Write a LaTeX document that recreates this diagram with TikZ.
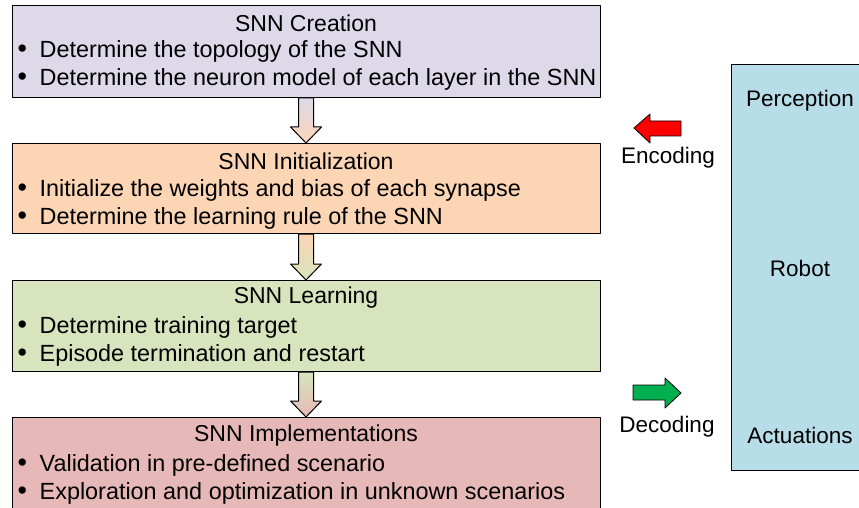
\documentclass[tikz,border=0pt]{standalone}
\usepackage{fontspec}
\setmainfont{Liberation Sans}
\usetikzlibrary{calc}

\newcommand{\itembullet}{\makebox[28pt][l]{\hspace{6pt}\scalebox{1.15}{\textbullet}}}

\begin{document}
\begin{tikzpicture}[x=1pt,y=-1pt,line cap=round,line join=round]

% Colors
\definecolor{createfill}{RGB}{221,217,233}
\definecolor{initfill}{RGB}{252,213,181}
\definecolor{learnfill}{RGB}{215,228,189}
\definecolor{implfill}{RGB}{230,185,184}
\definecolor{robotfill}{RGB}{183,221,232}
\definecolor{encred}{RGB}{255,0,0}
\definecolor{decgreen}{RGB}{0,176,80}

% Styles
\tikzset{
  stagebox/.style={draw=black,line width=1pt,minimum width=588pt,anchor=north,inner sep=0pt},
  stagetitle/.style={font=\fontsize{23}{27}\selectfont},
  stageitem/.style={font=\fontsize{23.4}{27}\selectfont,anchor=west,inner sep=0pt},
  sidelabel/.style={font=\fontsize{22.5}{27}\selectfont},
  flowarrow/.style={draw=black,line width=1pt},
  codearrow/.style={draw=black,line width=0.8pt}
}

\clip (0,0) rectangle (859,508);
\useasboundingbox (0,0) rectangle (859,508);

% Stage boxes
\node[stagebox,fill=createfill,minimum height=92pt] (create) at (306,5) {};
\node[stagebox,fill=initfill,minimum height=90pt] (init) at (306,143) {};
\node[stagebox,fill=learnfill,minimum height=91pt] (learn) at (306,280) {};
\node[stagebox,fill=implfill,minimum height=110pt] (impl) at (306,417) {};

% Robot box
\node[draw=black,line width=1pt,fill=robotfill,minimum width=150pt,minimum height=406pt,anchor=north west] (robot) at (731,64) {};

% Stage texts
\node[stagetitle] (createtitle) at ($(create.north)+(0,18)$) {SNN Creation};
\node[stageitem] (create1) at ($(create.north west)+(0,46.5)$) {\itembullet Determine the topology of the SNN};
\node[stageitem] (create2) at ($(create.north west)+(0,74.5)$) {\itembullet Determine the neuron model of each layer in the SNN};

\node[stagetitle] (inittitle) at ($(init.north)+(0,18)$) {SNN Initialization};
\node[stageitem] (init1) at ($(init.north west)+(0,47)$) {\itembullet Initialize the weights and bias of each synapse};
\node[stageitem] (init2) at ($(init.north west)+(0,75)$) {\itembullet Determine the learning rule of the SNN};

\node[stagetitle] (learntitle) at ($(learn.north)+(0,18)$) {SNN Learning};
\node[stageitem] (learn1) at ($(learn.north west)+(0,47)$) {\itembullet Determine training target};
\node[stageitem] (learn2) at ($(learn.north west)+(0,75)$) {\itembullet Episode termination and restart};

\node[stagetitle] (impltitle) at ($(impl.north)+(0,19)$) {SNN Implementations};
\node[stageitem] (impl1) at ($(impl.north west)+(0,48)$) {\itembullet Validation in pre-defined scenario};
\node[stageitem] (impl2) at ($(impl.north west)+(0,76)$) {\itembullet Exploration and optimization in unknown scenarios};

% Robot texts
\node[sidelabel] (perception) at (800,101) {Perception};
\node[sidelabel] (robottext) at (800,268) {Robot};
\node[sidelabel] (actuations) at (800,435) {Actuations};

% Encoding / decoding labels
\node[sidelabel] (encoding) at (668,158) {Encoding};
\node[sidelabel] (decoding) at (667,427) {Decoding};

% Block arrows between stages
\foreach \a/\b/\ca/\cb in {create/init/createfill/initfill,init/learn/initfill/learnfill,learn/impl/learnfill/implfill} {
  \path[flowarrow,top color=\ca,bottom color=\cb]
    ($(\a.south)+(-7.5,0)$) -- ($(\b.north)+(-7.5,-16)$) -- ($(\b.north)+(-15.5,-16)$)
    -- (\b.north) -- ($(\b.north)+(15.5,-16)$) -- ($(\b.north)+(7.5,-16)$)
    -- ($(\a.south)+(7.5,0)$) -- cycle;
}

% Encoding arrow (left)
\coordinate (enctip) at (634,128);
\draw[codearrow,fill=encred] (enctip) -- ++(16,-14) -- ++(0,7) -- ++(31,0)
  -- ++(0,15) -- ++(-31,0) -- ++(0,7) -- cycle;

% Decoding arrow (right)
\coordinate (dectip) at (681,393);
\draw[codearrow,fill=decgreen] (dectip) -- ++(-16,-15) -- ++(0,7) -- ++(-32,0)
  -- ++(0,15) -- ++(32,0) -- ++(0,8) -- cycle;

\end{tikzpicture}
\end{document}
